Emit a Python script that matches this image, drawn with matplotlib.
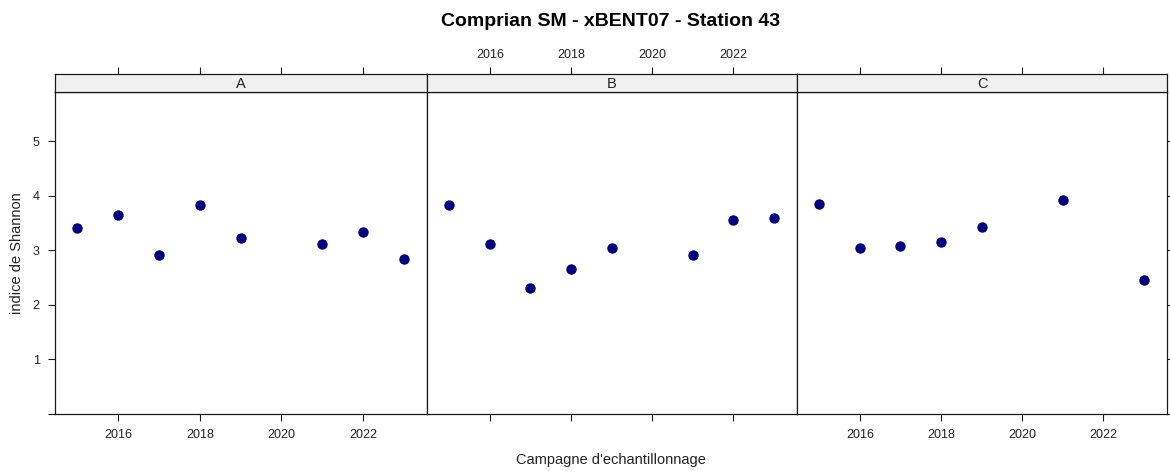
import matplotlib
matplotlib.use("Agg")
import matplotlib.pyplot as plt

plt.rcParams['font.family'] = ['Liberation Sans', 'DejaVu Sans']

# Shannon index per sampling campaign, one series per sampling point
years_a = [2015, 2016, 2017, 2018, 2019, 2021, 2022, 2023]
shannon_a = [3.40, 3.64, 2.92, 3.83, 3.23, 3.11, 3.34, 2.84]

years_b = [2015, 2016, 2017, 2018, 2019, 2021, 2022, 2023]
shannon_b = [3.83, 3.11, 2.30, 2.65, 3.04, 2.92, 3.56, 3.59]

years_c = [2015, 2016, 2017, 2018, 2019, 2021, 2023]
shannon_c = [3.85, 3.04, 3.08, 3.15, 3.42, 3.93, 2.45]

panel_names = ["A", "B", "C"]
x_ticks = [2016, 2018, 2020, 2022]
y_ticks = [0, 1, 2, 3, 4, 5]
y_ticklabels = ["", "1", "2", "3", "4", "5"]

title = "Comprian SM - xBENT07 - Station 43"
xlabel = "Campagne d'echantillonnage"
ylabel = "indice de Shannon"

W, H = 1170, 471
fig = plt.figure(figsize=(W / 100, H / 100), dpi=100)

def box(x0, y0, x1, y1):
    """Pixel box (top-left origin) -> figure fraction rect."""
    return [x0 / W, 1 - y1 / H, (x1 - x0) / W, (y1 - y0) / H]

panel_x = [(55, 427), (427, 797), (797, 1167)]
panel_top, panel_bottom = 92, 414
strip_top = 74

xlim = (2014.45, 2023.57)
ylim = (0.0, 5.9)
marker_color = "#00007F"
edge = "#1a1a1a"
txt = "#222222"
tick_len = 5.0
tick_fs = 9

data = [(years_a, shannon_a), (years_b, shannon_b), (years_c, shannon_c)]

for i, ((x0, x1), (xs, ys), name) in enumerate(zip(panel_x, data, panel_names)):
    ax = fig.add_axes(box(x0, panel_top, x1, panel_bottom))
    ax.plot(xs, ys, linestyle="none", marker="o", markersize=7.5,
            color=marker_color, markeredgewidth=0)
    ax.set_xlim(*xlim)
    ax.set_ylim(*ylim)
    for s in ax.spines.values():
        s.set_color(edge)
        s.set_linewidth(0.9)

    ax.set_xticks(x_ticks)
    ax.tick_params(axis="x", direction="out", length=tick_len, width=0.8,
                   color=edge, labelsize=tick_fs, labelcolor=txt, pad=6,
                   top=False, bottom=True, labelbottom=(i != 1))

    ax.set_yticks(y_ticks)
    if i == 0:
        ax.set_yticklabels(y_ticklabels)
        ax.tick_params(axis="y", direction="out", length=tick_len, width=0.8,
                       color=edge, labelsize=tick_fs, labelcolor=txt, pad=6,
                       left=True, right=False, labelleft=True)
    elif i == 2:
        ax.tick_params(axis="y", direction="out", length=tick_len, width=0.8,
                       color=edge, left=False, right=True,
                       labelleft=False, labelright=False)
    else:
        ax.tick_params(axis="y", left=False, right=False,
                       labelleft=False, labelright=False)

    # strip with the panel name, carrying the top axis ticks
    sx = fig.add_axes(box(x0, strip_top, x1, panel_top))
    sx.set_facecolor("#F0F0F0")
    sx.set_xlim(*xlim)
    sx.set_ylim(0, 1)
    sx.set_yticks([])
    for s in sx.spines.values():
        s.set_color(edge)
        s.set_linewidth(0.9)
    sx.set_xticks(x_ticks)
    sx.xaxis.set_ticks_position("top")
    sx.tick_params(axis="x", direction="out", length=tick_len, width=0.8,
                   color=edge, labelsize=tick_fs, labelcolor=txt, pad=4,
                   bottom=False, labelbottom=False,
                   top=True, labeltop=(i == 1))
    sx.text(0.5, 0.47, name, transform=sx.transAxes, ha="center",
            va="center", fontsize=10.5, color=txt)

fig.text(611 / W, 1 - 21 / H, title, ha="center", va="center",
         fontsize=14, fontweight="bold", color="black")
fig.text(611 / W, 1 - 460 / H, xlabel, ha="center", va="center",
         fontsize=10.5, color=txt)
fig.text(17 / W, 1 - 253 / H, ylabel, ha="center", va="center",
         rotation=90, fontsize=10.5, color=txt)

fig.savefig("out.png", dpi=100)
